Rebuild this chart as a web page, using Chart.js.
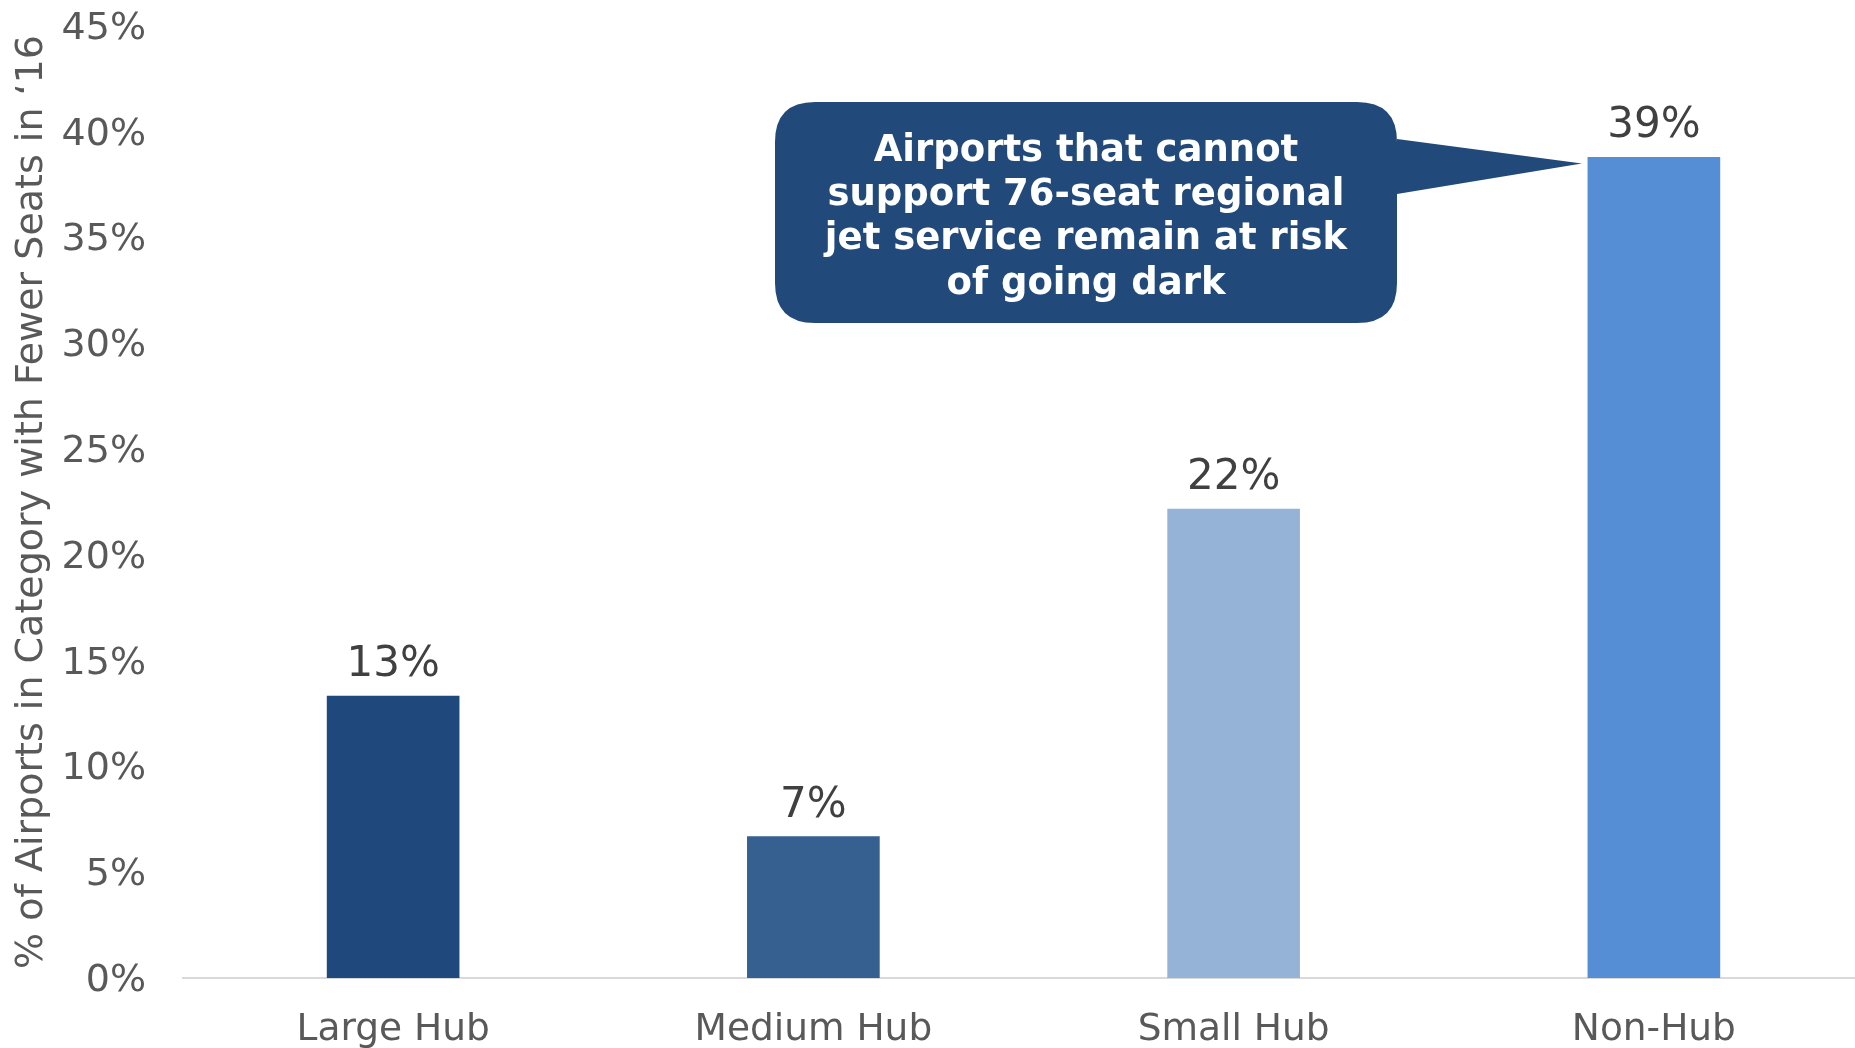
<!DOCTYPE html>
<html>
<head>
<meta charset="utf-8">
<script src="https://cdn.jsdelivr.net/npm/chart.js@4.4.1/dist/chart.umd.min.js"></script>
<style>
  html, body { margin: 0; padding: 0; overflow: hidden; background: #ffffff; }
  canvas { display: block; }
</style>
</head>
<body>
<canvas id="chart" width="1866" height="1048"></canvas>
<script>
// Share of airports in each hub category that had fewer seats in 2016 (%)
const categories = ['Large Hub', 'Medium Hub', 'Small Hub', 'Non-Hub'];
const shareFewerSeats = [13.33, 6.68, 22.17, 38.79];
const barColors = ['#1F497D', '#36608F', '#95B3D7', '#558ED5'];
const yAxisMin = 0;
const yAxisMax = 45;
const yAxisStep = 5;
const yAxisTitle = '% of Airports in Category with Fewer Seats in \u201816';
const calloutLines = [
  'Airports that cannot',
  'support 76-seat regional',
  'jet service remain at risk',
  'of going dark'
];
const calloutTarget = 'Non-Hub';

const FONT = "'DejaVu Sans', Verdana, sans-serif";

// Percent labels above each bar
const valueLabels = {
  id: 'valueLabels',
  afterDatasetsDraw(chart) {
    const { ctx } = chart;
    const meta = chart.getDatasetMeta(0);
    ctx.save();
    ctx.font = '42px ' + FONT;
    ctx.fillStyle = '#404040';
    ctx.textAlign = 'center';
    ctx.textBaseline = 'alphabetic';
    meta.data.forEach((bar, i) => {
      const v = chart.data.datasets[0].data[i];
      ctx.fillText(Math.round(v) + '%', bar.x, bar.y - 20);
    });
    ctx.restore();
  }
};

// Speech-bubble note pointing at the Non-Hub bar
const calloutNote = {
  id: 'calloutNote',
  afterDraw(chart) {
    const { ctx } = chart;
    const idx = chart.data.labels.indexOf(calloutTarget);
    const bar = chart.getDatasetMeta(0).data[idx];
    const tipX = bar.x - bar.width / 2 - 6;
    const tipY = bar.y + 6;

    const left = 775, top = 102, right = 1397, bottom = 323, r = 40;
    ctx.save();
    ctx.fillStyle = '#214A7B';
    ctx.beginPath();
    ctx.moveTo(left + r, top);
    ctx.lineTo(right - r, top);
    ctx.quadraticCurveTo(right, top, right, top + r);
    ctx.lineTo(right, 139);
    ctx.lineTo(tipX, tipY);
    ctx.lineTo(right, 194);
    ctx.lineTo(right, bottom - r);
    ctx.quadraticCurveTo(right, bottom, right - r, bottom);
    ctx.lineTo(left + r, bottom);
    ctx.quadraticCurveTo(left, bottom, left, bottom - r);
    ctx.lineTo(left, top + r);
    ctx.quadraticCurveTo(left, top, left + r, top);
    ctx.closePath();
    ctx.fill();

    ctx.fillStyle = '#FFFFFF';
    ctx.font = 'bold 37px ' + FONT;
    ctx.textAlign = 'center';
    ctx.textBaseline = 'middle';
    const cx = (left + right) / 2;
    calloutLines.forEach((line, i) => {
      ctx.fillText(line, cx, 151 + i * 44.3);
    });
    ctx.restore();
  }
};

new Chart(document.getElementById('chart'), {
  type: 'bar',
  data: {
    labels: categories,
    datasets: [{
      data: shareFewerSeats,
      backgroundColor: barColors,
      borderWidth: 0,
      barThickness: 132
    }]
  },
  options: {
    responsive: false,
    animation: false,
    devicePixelRatio: 1,
    layout: { padding: { top: 26, right: 2, bottom: 0, left: 0 } },
    plugins: {
      legend: { display: false },
      tooltip: { enabled: false }
    },
    scales: {
      x: {
        grid: { display: false, drawTicks: false },
        border: { display: true, color: '#D9D9D9', width: 2 },
        ticks: {
          color: '#595959',
          font: { family: FONT, size: 37.5 },
          padding: 30,
          maxRotation: 0
        },
        afterFit(scale) { scale.height = 70; }
      },
      y: {
        min: yAxisMin,
        max: yAxisMax,
        grid: { display: false, drawTicks: false },
        border: { display: false },
        ticks: {
          stepSize: yAxisStep,
          color: '#595959',
          font: { family: FONT, size: 38 },
          padding: 37,
          labelOffset: 3,
          callback: (v) => v + '%'
        },
        title: {
          display: true,
          text: yAxisTitle,
          color: '#595959',
          font: { family: FONT, size: 38, lineHeight: 1.2 },
          padding: { top: 9, bottom: 0 }
        },
        afterFit(scale) {
          scale.width = 183;
          scale.paddingTop = 0;
          scale.paddingBottom = 0;
        }
      }
    }
  },
  plugins: [valueLabels, calloutNote]
});
</script>
</body>
</html>
